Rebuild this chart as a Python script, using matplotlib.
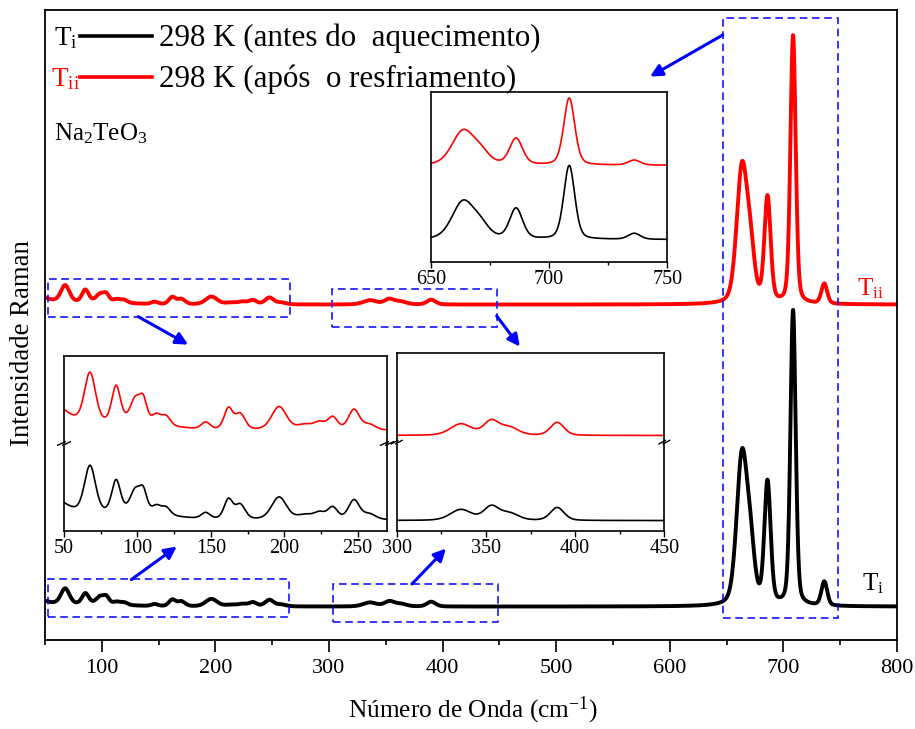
import numpy as np
import matplotlib
matplotlib.use("Agg")
import matplotlib.pyplot as plt
from matplotlib.patches import Rectangle

plt.rcParams["font.family"] = ["Liberation Serif", "DejaVu Serif"]
plt.rcParams["mathtext.fontset"] = "custom"
plt.rcParams["mathtext.rm"] = "Liberation Serif"
plt.rcParams["mathtext.it"] = "Liberation Serif:italic"

# Raman bands: position (cm-1), FWHM (cm-1), height (a.u.)
band_pos = [38, 67.7, 85.5, 98.5, 104, 113, 119.5, 95, 146.5, 162, 170, 196.5,
            214, 224, 233, 247.5, 258, 336, 353, 363, 390,
            663.5, 671, 686, 708.5, 736]
band_fwhm = [30, 9, 7, 8, 6, 7, 7, 55, 7, 7, 8, 12,
             12, 9, 8, 9, 10, 14, 10, 12, 9,
             11, 9, 6.5, 5.5, 6]
height_Ti = [8, 16, 10.5, 7, 6.5, 2.5, 2.5, 2.5, 2.0, 6.5, 4.8, 7.5,
             1.5, 2.2, 4.0, 6.5, 1.8, 4.0, 5.0, 2.6, 4.8,
             148, 48, 122, 295, 24]
height_Tii = [10, 17, 12, 7.5, 7, 3, 3, 2.5, 2.3, 7, 5.2, 7.8,
              1.7, 2.4, 4.2, 6.8, 1.8, 4.2, 5.2, 2.9, 4.8,
              134, 44, 105, 268, 20]
offset_Tii = 302

x_range = (50, 800)
ticks_main = [100, 200, 300, 400, 500, 600, 700, 800]


def spectrum(x, heights, eta=0.3):
    y = np.zeros_like(x)
    for x0, w, h in zip(band_pos, band_fwhm, heights):
        u = (x - x0) / w
        y += h * ((1 - eta) * np.exp(-4 * np.log(2) * u**2) + eta / (1 + 4 * u**2))
    return y


x = np.linspace(x_range[0], x_range[1], 4001)
y_i = spectrum(x, height_Ti)
y_ii = spectrum(x, height_Tii)

W, H = 915, 729
fig = plt.figure(figsize=(W / 100, H / 100), dpi=100)


def fx(px):
    return px / W


def fy(py):
    return 1 - py / H


ax = fig.add_axes([fx(45), fy(640), fx(897) - fx(45), fy(10) - fy(640)])
ax.plot(x, y_i, color="black", lw=2.8)
ax.plot(x, y_ii + offset_Tii, color="red", lw=2.8)
ax.set_xlim(*x_range)
ax.set_ylim(-33.4, 596.6)
ax.set_yticks([])
ax.set_xticks(ticks_main)
ax.set_xticks(np.arange(50, 801, 50), minor=True)
ax.tick_params(axis="x", which="major", direction="out", length=8.6, width=1.2, labelsize=16, pad=5)
ax.tick_params(axis="x", which="minor", direction="out", length=3.8, width=1.2)
for s in ax.spines.values():
    s.set_linewidth(1.3)
ax.set_xlabel("Número de Onda (cm$^{-1}$)", fontsize=18.3)
ax.set_ylabel("Intensidade Raman", fontsize=19.3)
ax.xaxis.set_label_coords(0.502, -0.087)
ax.yaxis.set_label_coords(-0.012, 0.471)

# dashed selection boxes
boxes = [(53, 290, 266, 327.6), (303, 280, 448, 317.3),
         (53, -10, 265, 27.6), (303.5, -15, 449, 22.6),
         (646.6, -11.7, 747.8, 588.3)]
for x0, y0, x1, y1 in boxes:
    ax.add_patch(Rectangle((x0, y0), x1 - x0, y1 - y0, fill=False, ec="blue",
                           lw=1.1, ls=(0, (5, 3)), zorder=3))

arrows = [((132, 290), (176, 262)), ((447.6, 290.6), (468, 260)),
          ((126, 27), (166, 60)), ((373, 22.6), (403, 58)),
          ((646.6, 571.6), (582.6, 530))]
for tail, head in arrows:
    ax.annotate("", xy=head, xytext=tail,
                arrowprops=dict(arrowstyle="-|>", color="blue", lw=2.2,
                                mutation_scale=18, shrinkA=0, shrinkB=0))

# legend and labels
fig.text(fx(54), fy(45), r"$\mathrm{T_i}$", fontsize=19.5, color="black")
fig.text(fx(51), fy(86), r"$\mathrm{T_{ii}}$", fontsize=19.5, color="red")
fig.add_artist(plt.Line2D([fx(80), fx(152)], [fy(35.7), fy(35.7)], color="black", lw=2.6))
fig.add_artist(plt.Line2D([fx(80), fx(152)], [fy(76.8), fy(76.8)], color="red", lw=2.6))
fig.text(fx(159), fy(46.4), "298 K (antes do  aquecimento)", fontsize=22.3)
fig.text(fx(159), fy(87.5), "298 K (após  o resfriamento)", fontsize=22.3)
fig.text(fx(54), fy(140), r"$\mathrm{Na_2TeO_3}$", fontsize=18)
fig.text(fx(857), fy(295), r"$\mathrm{T_{ii}}$", fontsize=18, color="red")
fig.text(fx(862), fy(590), r"$\mathrm{T_i}$", fontsize=18, color="black")


def inset(rect, xlim, ylim, shift, major, minor, breaks):
    a = fig.add_axes(rect)
    a.plot(x, y_i, color="black", lw=1.2)
    a.plot(x, y_ii + shift, color="red", lw=1.2)
    a.set_xlim(*xlim)
    a.set_ylim(*ylim)
    a.set_yticks([])
    a.set_xticks(major)
    a.set_xticks(minor, minor=True)
    a.tick_params(axis="x", which="major", direction="out", length=4, width=1, labelsize=14.5, pad=2)
    a.tick_params(axis="x", which="minor", direction="out", length=2.5, width=1)
    for s in a.spines.values():
        s.set_linewidth(1.2)
    if breaks:
        for xb in (0, 1):
            for d in (-0.008, 0.008):
                a.plot([xb - 0.012 + d, xb + 0.012 + d], [0.49, 0.51], color="black",
                       lw=1, transform=a.transAxes, clip_on=False)
    return a


inset([fx(64), fy(531), fx(387) - fx(64), fy(356) - fy(531)], (50, 270), (-3.6, 54.7), 29.8,
      [50, 100, 150, 200, 250], [75, 125, 175, 225], True)
inset([fx(396.7), fy(531), fx(664.3) - fx(396.7), fy(353.3) - fy(531)], (300, 450), (-3.8, 62), 31.5,
      [300, 350, 400, 450], [325, 375, 425], True)
inset([fx(431), fy(261.7), fx(667.3) - fx(431), fy(92.3) - fy(261.7)], (650, 750), (-88.6, 589), 297,
      [650, 700, 750], [675, 725], False)

fig.savefig("out.png", dpi=100)
